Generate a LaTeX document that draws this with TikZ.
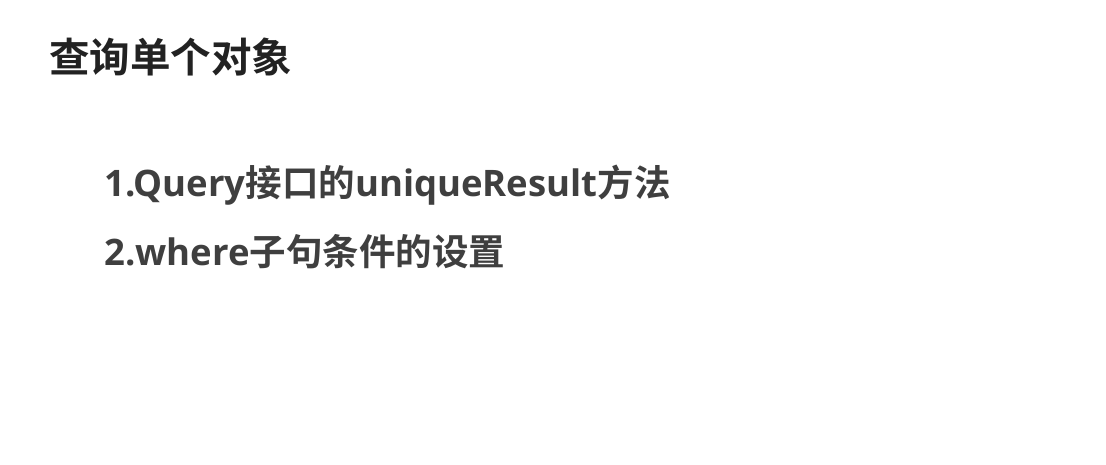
\documentclass[tikz,border=0pt]{standalone}
\usepackage{fontspec}
\usepackage{xcolor}
\usepackage{tikz}
\newfontfamily\cjk{Noto Sans CJK SC Bold}
\newfontfamily\lat{Open Sans}[BoldFont=* Bold]
\newcommand{\zh}[1]{{\cjk #1}}
\newcommand{\en}[1]{{\lat\bfseries #1}}
\definecolor{ttlgray}{HTML}{222222}
\definecolor{itmgray}{HTML}{3F3F3F}
\tikzset{ttl/.style={anchor=west,inner sep=0pt,text=ttlgray,font=\fontsize{40.5}{45}\selectfont},
         itm/.style={anchor=west,inner sep=0pt,text=itmgray,font=\fontsize{36.5}{41}\selectfont}}

\begin{document}
\begin{tikzpicture}[x=1pt,y=-1pt]
    \useasboundingbox[fill=white] (0,0) rectangle (1106,465);
    \node[ttl] (title) at (49,57) {\zh{查询单个对象}};
    \node[itm] (query) at (104,185) {\en{1.Query}\zh{接口的}\en{uniqueResult}\zh{方法}};
    \node[itm] (where) at (104,252) {\en{2.where}\zh{子句条件的设置}};
\end{tikzpicture}
\end{document}
